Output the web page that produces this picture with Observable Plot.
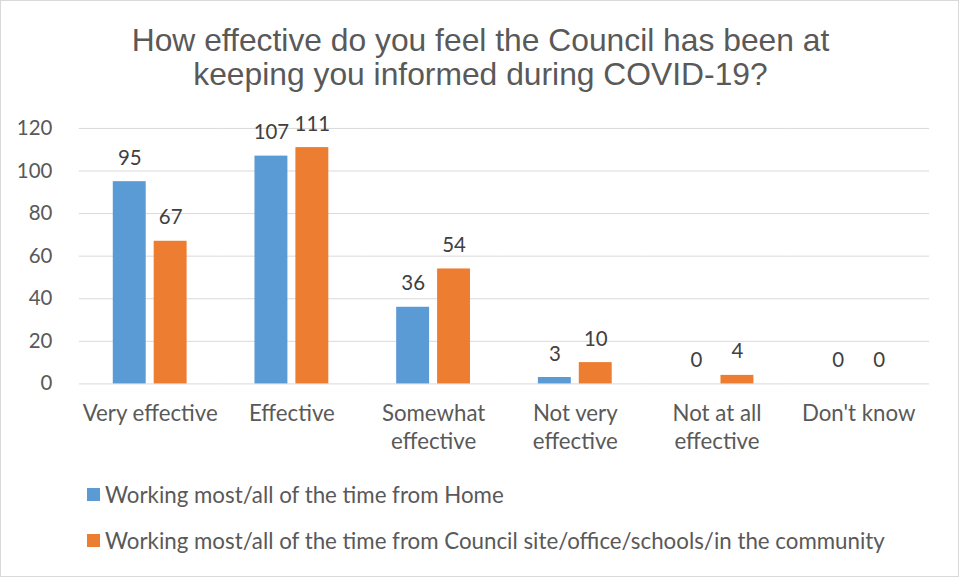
<!DOCTYPE html>
<html>
<head>
<meta charset="utf-8">
<script src="https://cdn.jsdelivr.net/npm/d3@7"></script>
<script src="https://cdn.jsdelivr.net/npm/@observablehq/plot@0.6"></script>
<style>
  body { margin: 0; background: #fff; }
  #wrap { position: relative; width: 959px; height: 577px; box-sizing: border-box; border: 1px solid #d9d9d9; background: #fff; overflow: hidden; }
  #title { position: absolute; top: 22px; left: 0; width: 959px; text-align: center; font-family: "Liberation Sans", Arial, sans-serif; font-size: 31.8px; line-height: 34px; color: #595959; }
  #chart { position: absolute; top: 100px; left: 0; }
  #legend { position: absolute; left: 86px; top: 480px; font-family: Lato, sans-serif; font-size: 22.3px; color: #595959; }
  .item { display: flex; align-items: center; height: 26px; margin-bottom: 20px; }
  .sw { width: 13px; height: 13px; margin-right: 5px; }
</style>
</head>
<body>
<div id="wrap">
  <div id="title">How effective do you feel the Council has been at<br>keeping you informed during COVID-19?</div>
  <div id="chart"></div>
  <div id="legend"></div>
</div>
<script>
const categories = ["Very effective", "Effective", "Somewhat effective", "Not very effective", "Not at all effective", "Don't know"];
const tickLabels = ["Very effective", "Effective", "Somewhat\neffective", "Not very\neffective", "Not at all\neffective", "Don't know"];
const seriesNames = ["Working most/all of the time from Home", "Working most/all of the time from Council site/office/schools/in the community"];
const home = [95, 107, 36, 3, 0, 0];
const council = [67, 111, 54, 10, 4, 0];
const colors = ["#5B9BD5", "#ED7D31"];
const yTicks = [0, 20, 40, 60, 80, 100, 120];

const data = categories.flatMap((c, i) => [
  {category: c, series: seriesNames[0], value: home[i]},
  {category: c, series: seriesNames[1], value: council[i]}
]);

const chart = Plot.plot({
  width: 959, height: 370,
  marginLeft: 76, marginRight: 27, marginTop: 27, marginBottom: 87,
  style: {fontFamily: "Lato, sans-serif", fontSize: "20px", color: "#595959", background: "transparent", overflow: "visible"},
  fx: {domain: categories, padding: 0, label: null},
  x: {domain: seriesNames, paddingInner: 0.19, paddingOuter: 0.82, axis: null},
  y: {domain: [0, 120], label: null},
  color: {domain: seriesNames, range: colors},
  marks: [
    Plot.gridY(yTicks, {stroke: "#d9d9d9", strokeOpacity: 1, strokeWidth: 1}),
    Plot.barY(data, {fx: "category", x: "series", y: "value", fill: "series"}),
    Plot.text(data, {fx: "category", x: "series", y: "value", text: d => String(d.value), dy: -17, lineAnchor: "bottom", fill: "#404040", fontSize: 20.5}),
    Plot.axisY({ticks: yTicks, tickSize: 0, tickPadding: 27, fontSize: 20.5, label: null}),
    Plot.axisFx({anchor: "bottom", tickSize: 0, tickPadding: 17, fontSize: 22.3, lineHeight: 1.26, label: null,
      tickFormat: d => tickLabels[categories.indexOf(d)]})
  ]
});
document.getElementById("chart").appendChild(chart);

const legend = document.getElementById("legend");
seriesNames.forEach((s, i) => {
  const item = document.createElement("div");
  item.className = "item";
  const sw = document.createElement("div");
  sw.className = "sw";
  sw.style.background = colors[i];
  const t = document.createElement("span");
  t.textContent = s;
  item.appendChild(sw);
  item.appendChild(t);
  legend.appendChild(item);
});
</script>
</body>
</html>
